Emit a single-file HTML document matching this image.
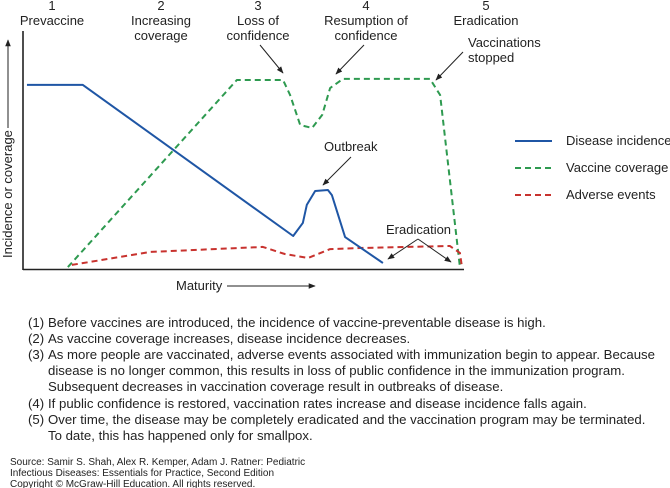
<!DOCTYPE html>
<html><head><meta charset="utf-8"><style>
body{margin:0;background:#fff;}
svg{display:block;font-family:"Liberation Sans",sans-serif;}
.t{font-size:13px;fill:#222;}
.n{font-size:13.2px;fill:#222;}
.s{font-size:10px;fill:#222;}
</style></head><body>
<svg id="chart" width="670" height="488" viewBox="0 0 670 488">
<defs><marker id="ah" viewBox="0 0 10 10" refX="9" refY="5" markerWidth="7" markerHeight="7" orient="auto"><path d="M0,1 L10,5 L0,9 z" fill="#222"/></marker></defs>
<g>
<text class="t" x="52" y="10" text-anchor="middle">1</text><text class="t" x="52" y="25" text-anchor="middle">Prevaccine</text>
<text class="t" x="161" y="10" text-anchor="middle">2</text><text class="t" x="161" y="25" text-anchor="middle">Increasing</text><text class="t" x="161" y="40" text-anchor="middle">coverage</text>
<text class="t" x="258" y="10" text-anchor="middle">3</text><text class="t" x="258" y="25" text-anchor="middle">Loss of</text><text class="t" x="258" y="40" text-anchor="middle">confidence</text>
<text class="t" x="366" y="10" text-anchor="middle">4</text><text class="t" x="366" y="25" text-anchor="middle">Resumption of</text><text class="t" x="366" y="40" text-anchor="middle">confidence</text>
<text class="t" x="486" y="10" text-anchor="middle">5</text><text class="t" x="486" y="25" text-anchor="middle">Eradication</text>
</g>
<g>
<line x1="23" y1="31" x2="23" y2="270" stroke="#222" stroke-width="1.6"/>
<line x1="23" y1="269.5" x2="464" y2="269.5" stroke="#222" stroke-width="1.6"/>
<text class="t" transform="translate(12,258) rotate(-90)">Incidence or coverage</text>
<line x1="8" y1="128" x2="8" y2="40" stroke="#222" marker-end="url(#ah)"/>
<text class="t" x="176" y="290">Maturity</text>
<line x1="227" y1="286" x2="315" y2="286" stroke="#222" marker-end="url(#ah)"/>
</g>
<g id="series"></g>
<g>
<text class="t" x="468" y="47">Vaccinations</text><text class="t" x="468" y="62">stopped</text>
<line x1="463" y1="52" x2="436" y2="80" stroke="#222" marker-end="url(#ah)"/>
<line x1="260" y1="45" x2="283" y2="73" stroke="#222" marker-end="url(#ah)"/>
<line x1="364" y1="45" x2="336" y2="74" stroke="#222" marker-end="url(#ah)"/>
<text class="t" x="324" y="151">Outbreak</text>
<line x1="351" y1="157" x2="323" y2="185" stroke="#222" marker-end="url(#ah)"/>
<text class="t" x="386" y="234">Eradication</text>
<line x1="418" y1="239" x2="388" y2="259" stroke="#222" marker-end="url(#ah)"/>
<line x1="418" y1="239" x2="451" y2="262" stroke="#222" marker-end="url(#ah)"/>
</g>
<g>
<g><line x1="515" y1="141" x2="552" y2="141" stroke="#1f56a5" stroke-width="2"/><text class="t" x="566" y="145">Disease incidence</text></g>
<g><line x1="515" y1="168" x2="552" y2="168" stroke="#2e9a50" stroke-width="2" stroke-dasharray="6,4"/><text class="t" x="566" y="172">Vaccine coverage</text></g>
<g><line x1="515" y1="195" x2="552" y2="195" stroke="#c8322e" stroke-width="2" stroke-dasharray="6,4"/><text class="t" x="566" y="199">Adverse events</text></g>
</g>
<g>
<text class="n" x="28" y="327">(1)</text><text class="n" x="48" y="327">Before vaccines are introduced, the incidence of vaccine-preventable disease is high.</text>
<text class="n" x="28" y="343">(2)</text><text class="n" x="48" y="343">As vaccine coverage increases, disease incidence decreases.</text>
<text class="n" x="28" y="359">(3)</text><text class="n" x="48" y="359">As more people are vaccinated, adverse events associated with immunization begin to appear. Because</text>
<text class="n" x="48" y="375">disease is no longer common, this results in loss of public confidence in the immunization program.</text>
<text class="n" x="48" y="391">Subsequent decreases in vaccination coverage result in outbreaks of disease.</text>
<text class="n" x="28" y="408">(4)</text><text class="n" x="48" y="408">If public confidence is restored, vaccination rates increase and disease incidence falls again.</text>
<text class="n" x="28" y="424">(5)</text><text class="n" x="48" y="424">Over time, the disease may be completely eradicated and the vaccination program may be terminated.</text>
<text class="n" x="48" y="440">To date, this has happened only for smallpox.</text>
</g>
<g>
<text class="s" x="10" y="465">Source: Samir S. Shah, Alex R. Kemper, Adam J. Ratner: Pediatric</text>
<text class="s" x="10" y="476">Infectious Diseases: Essentials for Practice, Second Edition</text>
<text class="s" x="10" y="487">Copyright © McGraw-Hill Education. All rights reserved.</text>
</g>
</svg>
<script>
const diseaseX = [0.9, 13.6, 61.4, 63.6, 64.5, 66.4, 69.3, 70.2, 73.2, 81.8];
const diseaseY = [76.7, 76.7, 13.75, 19.2, 26.7, 32.5, 32.9, 30.8, 13.3, 2.5];
const coverageX = [10.2, 48.6, 59.1, 60.7, 63, 65.7, 68, 69.8, 72.7, 92.5, 94.8, 99.3];
const coverageY = [0.8, 78.75, 78.75, 72.5, 60, 58.75, 64.2, 75.4, 79.2, 79.2, 72.5, 0.8];
const adverseX = [11.1, 28.9, 54.5, 59.5, 64.8, 69.8, 76.6, 97, 99.3, 99.8];
const adverseY = [1.7, 7.1, 9.2, 6.25, 4.6, 8.3, 8.75, 9.6, 6.7, 0.4];
function sx(v){return 23+v*4.4;}
function sy(v){return 269-v*2.4;}
const g=document.getElementById('series');
function draw(xs,ys,color,dash,name){
  const p=document.createElementNS('http://www.w3.org/2000/svg','polyline');
  p.setAttribute('points',xs.map((x,i)=>sx(x)+','+sy(ys[i])).join(' '));
  p.setAttribute('fill','none');p.setAttribute('stroke',color);p.setAttribute('stroke-width','2');
  p.setAttribute('stroke-linejoin','round');
  if(dash)p.setAttribute('stroke-dasharray',dash);
  
  
  g.appendChild(p);
}
draw(coverageX,coverageY,'#2e9a50','6,4','vaccine-coverage-line');
draw(adverseX,adverseY,'#c8322e','6,4','adverse-events-line');
draw(diseaseX,diseaseY,'#1f56a5','','disease-incidence-line');
</script>
</body></html>
